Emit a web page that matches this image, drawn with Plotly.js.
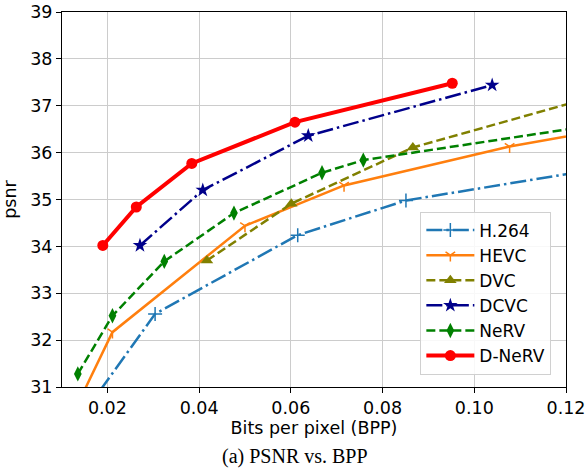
<!DOCTYPE html>
<html><head><meta charset="utf-8">
<script src="https://cdn.plot.ly/plotly-3.0.1.min.js"></script>
<style>body{margin:0;padding:0;background:#fff}#chart{width:587px;height:468px}</style>
</head><body><div id="chart"></div>
<script>
// Data (x = bits per pixel, y = PSNR)
const h264_bpp  = [0.0150, 0.0304, 0.0615, 0.0851, 0.1300];
const h264_psnr = [30.46, 32.56, 34.24, 34.98, 35.70];
const hevc_bpp  = [0.0140, 0.0211, 0.0500, 0.0716, 0.1077, 0.1300];
const hevc_psnr = [30.73, 32.17, 34.44, 35.30, 36.13, 36.52];
const dvc_bpp   = [0.0417, 0.0601, 0.0866, 0.1300];
const dvc_psnr  = [33.70, 34.91, 36.11, 37.30];
const dcvc_bpp  = [0.0271, 0.0408, 0.0638, 0.1039];
const dcvc_psnr = [34.02, 35.20, 36.36, 37.44];
const nerv_bpp  = [0.01355, 0.0211, 0.0324, 0.0476, 0.0668, 0.0758, 0.1300];
const nerv_psnr = [31.28, 32.52, 33.68, 34.71, 35.57, 35.84, 36.64];
const dnerv_bpp  = [0.0190, 0.0263, 0.0384, 0.0609, 0.0952];
const dnerv_psnr = [34.02, 34.84, 35.77, 36.65, 37.48];

const xTicks = [0.02, 0.04, 0.06, 0.08, 0.10, 0.12];
const xTickText = ['0.02', '0.04', '0.06', '0.08', '0.10', '0.12'];
const yTicks = [31, 32, 33, 34, 35, 36, 37, 38, 39];

const FONT = 'DejaVu Sans, sans-serif';
const dashdot = '16px,4px,2.5px,4px';
const dashed = '9px,4px';

const traces = [
  {name:'H.264', x:h264_bpp, y:h264_psnr, mode:'lines+markers',
   line:{color:'#1f77b4', width:2.5, dash:dashdot},
   marker:{symbol:'cross-thin', size:10, color:'#1f77b4', line:{color:'#1f77b4', width:1.5}}},
  {name:'HEVC', x:hevc_bpp, y:hevc_psnr, mode:'lines+markers',
   line:{color:'#ff7f0e', width:2.5},
   marker:{symbol:'y-down', size:8, color:'#ff7f0e', line:{color:'#ff7f0e', width:1.5}}},
  {name:'DVC', x:dvc_bpp, y:dvc_psnr, mode:'lines+markers',
   line:{color:'#808000', width:2.5, dash:dashed},
   marker:{symbol:'triangle-up', size:11, color:'#808000'}},
  {name:'DCVC', x:dcvc_bpp, y:dcvc_psnr, mode:'lines+markers',
   line:{color:'#00008b', width:2.5, dash:dashdot},
   marker:{symbol:'star', size:11, color:'#00008b'}},
  {name:'NeRV', x:nerv_bpp, y:nerv_psnr, mode:'lines+markers',
   line:{color:'#008000', width:2.5, dash:dashed},
   marker:{symbol:'diamond-tall', size:11, color:'#008000'}},
  {name:'D-NeRV', x:dnerv_bpp, y:dnerv_psnr, mode:'lines+markers',
   line:{color:'#ff0000', width:4},
   marker:{symbol:'circle', size:11, color:'#ff0000'}}
];

const layout = {
  width:587, height:468,
  margin:{l:62, r:21, t:12, b:81},
  paper_bgcolor:'#fff', plot_bgcolor:'#fff',
  font:{family:FONT, size:17.5, color:'#000'},
  showlegend:true,
  legend:{x:0.711, y:0.468, xanchor:'left', yanchor:'top',
    bgcolor:'rgba(255,255,255,0.85)', bordercolor:'#d0d0d0', borderwidth:1,
    itemwidth:48,
    font:{family:FONT, size:17, color:'#000'}},
  xaxis:{range:[0.0101, 0.12], tickvals:xTicks, ticktext:xTickText,
    showgrid:true, gridcolor:'#cccccc', gridwidth:1,
    showline:true, linecolor:'#000', linewidth:1, mirror:true,
    ticks:'outside', ticklen:5, tickcolor:'#000', zeroline:false,
    title:{text:'Bits per pixel (BPP)', font:{family:FONT, size:17.5}, standoff:4}},
  yaxis:{range:[31, 39], tickvals:yTicks,
    showgrid:true, gridcolor:'#cccccc', gridwidth:1,
    showline:true, linecolor:'#000', linewidth:1, mirror:true,
    ticks:'outside', ticklen:5, tickcolor:'#000', zeroline:false,
    title:{text:'psnr', font:{family:FONT, size:17.5}, standoff:10}},
  annotations:[{text:'(a) PSNR vs. BPP', xref:'paper', yref:'paper',
    x:(295-62)/504, y:-(456-387)/375, xanchor:'center', yanchor:'middle',
    showarrow:false, font:{family:'Liberation Serif, Times New Roman, serif', size:20, color:'#000'}}]
};

Plotly.newPlot('chart', traces, layout, {staticPlot:true, displayModeBar:false});
</script></body></html>
